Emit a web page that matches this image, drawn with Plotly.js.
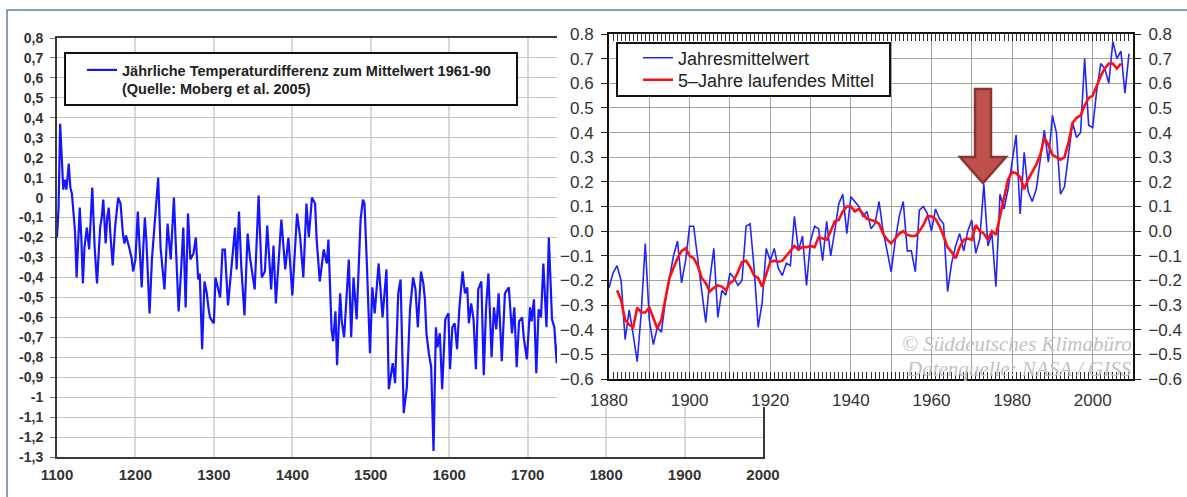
<!DOCTYPE html>
<html><head><meta charset="utf-8">
<script src="https://cdn.plot.ly/plotly-3.0.1.min.js"></script>
<style>html,body{margin:0;padding:0;background:#fff;}</style>
</head><body>
<div id="chart" style="width:1187px;height:497px;"></div>
<script>
// ---- Left chart: Moberg et al. 2005 reconstruction ----
const mobergYears = [1100,1102,1104,1106,1108,1110,1112,1115,1117,1119,
1121,1123,1125,1127,1129,1131,1133,1135,1138,1141,
1145,1148,1151,1155,1157,1159,1162,1164,1166,1168,
1171,1174,1176,1178,1181,1184,1186,1188,1192,1195,
1197,1200,1203,1205,1208,1210,1212,1214,1218,1221,
1225,1229,1232,1234,1237,1241,1245,1249,1252,1255,
1258,1261,1264,1267,1270,1274,1277,1280,1282,1285,
1288,1291,1293,1295,1298,1300,1302,1305,1308,1311,
1314,1318,1323,1327,1329,1332,1335,1339,1343,1346,
1352,1357,1361,1365,1368,1373,1376,1379,1386,1391,
1395,1400,1406,1410,1414,1418,1421,1425,1429,1431,
1435,1440,1444,1446,1450,1452,1455,1457,1461,1463,
1466,1468,1472,1475,1478,1482,1485,1487,1490,1492,
1495,1497,1499,1502,1505,1510,1515,1520,1523,1528,
1531,1535,1538,1542,1546,1550,1554,1557,1560,1564,
1567,1569,1571,1574,1577,1580,1583,1585,1588,1591,
1595,1599,1601,1604,1607,1610,1613,1617,1620,1623,
1625,1628,1631,1634,1637,1641,1644,1647,1650,1654,
1657,1660,1663,1667,1671,1676,1680,1683,1686,1689,
1693,1695,1699,1703,1705,1708,1711,1714,1717,1720,
1724,1727,1731,1734,1737,1739];
const mobergValues = [-0.20,-0.05,0.37,0.20,0.04,0.09,0.04,0.17,0.05,0.02,
-0.10,-0.17,-0.40,-0.25,-0.05,-0.20,-0.43,-0.25,-0.15,-0.26,
0.05,-0.25,-0.43,-0.15,-0.10,-0.01,-0.23,-0.10,-0.05,-0.18,
-0.34,-0.15,-0.08,0.00,-0.03,-0.18,-0.23,-0.19,-0.25,-0.30,
-0.37,-0.31,-0.07,-0.25,-0.45,-0.25,-0.10,-0.22,-0.58,-0.31,
-0.11,0.10,-0.25,-0.35,-0.46,-0.13,-0.31,0.00,-0.30,-0.57,
-0.38,-0.15,-0.55,-0.08,-0.31,-0.28,-0.20,-0.41,-0.38,-0.76,
-0.42,-0.48,-0.55,-0.60,-0.62,-0.63,-0.40,-0.45,-0.50,-0.26,
-0.26,-0.54,-0.30,-0.15,-0.36,-0.07,-0.35,-0.59,-0.18,-0.30,
-0.46,0.01,-0.40,-0.37,-0.14,-0.46,-0.24,-0.53,-0.11,-0.36,
-0.20,-0.49,-0.08,-0.20,-0.40,-0.03,-0.20,0.00,-0.03,-0.21,
-0.42,-0.26,-0.33,-0.21,-0.66,-0.72,-0.57,-0.84,-0.48,-0.62,
-0.70,-0.55,-0.31,-0.70,-0.40,-0.61,-0.25,-0.11,-0.01,-0.03,
-0.33,-0.58,-0.78,-0.45,-0.58,-0.33,-0.60,-0.36,-0.96,-0.83,
-0.93,-0.48,-0.41,-1.08,-0.95,-0.56,-0.40,-0.46,-0.65,-0.37,
-0.43,-0.51,-0.68,-0.78,-0.85,-1.27,-0.65,-0.75,-0.68,-0.96,
-0.61,-0.58,-0.86,-0.65,-0.63,-0.76,-0.55,-0.37,-0.48,-0.45,
-0.63,-0.53,-0.61,-0.86,-0.46,-0.42,-0.89,-0.55,-0.38,-0.80,
-0.55,-0.66,-0.48,-0.82,-0.48,-0.45,-0.68,-0.55,-0.85,-0.62,
-0.60,-0.70,-0.81,-0.55,-0.62,-0.51,-0.88,-0.56,-0.60,-0.33,
-0.65,-0.20,-0.61,-0.65,-0.83,-0.71];
const leftYTickVals = [0.8,0.7,0.6,0.5,0.4,0.3,0.2,0.1,0,-0.1,-0.2,-0.3,-0.4,-0.5,-0.6,-0.7,-0.8,-0.9,-1,-1.1,-1.2,-1.3];
const leftYTickText = ['0,8','0,7','0,6','0,5','0,4','0,3','0,2','0,1','0','-0,1','-0,2','-0,3','-0,4','-0,5','-0,6','-0,7','-0,8','-0,9','-1','-1,1','-1,2','-1,3'];
const leftLegendName = 'Jährliche Temperaturdifferenz zum Mittelwert 1961-90<br>(Quelle: Moberg et al. 2005)';

// ---- Inset chart: NASA/GISS annual means and 5-year running mean ----
const gissYears = [1880,1881,1882,1883,1884,1885,1886,1887,1888,1889,
1890,1891,1892,1893,1894,1895,1896,1897,1898,1899,
1900,1901,1902,1903,1904,1905,1906,1907,1908,1909,
1910,1911,1912,1913,1914,1915,1916,1917,1918,1919,
1920,1921,1922,1923,1924,1925,1926,1927,1928,1929,
1930,1931,1932,1933,1934,1935,1936,1937,1938,1939,
1940,1941,1942,1943,1944,1945,1946,1947,1948,1949,
1950,1951,1952,1953,1954,1955,1956,1957,1958,1959,
1960,1961,1962,1963,1964,1965,1966,1967,1968,1969,
1970,1971,1972,1973,1974,1975,1976,1977,1978,1979,
1980,1981,1982,1983,1984,1985,1986,1987,1988,1989,
1990,1991,1992,1993,1994,1995,1996,1997,1998,1999,
2000,2001,2002,2003,2004,2005,2006,2007,2008,2009];
const gissAnnual = [-0.23,-0.17,-0.14,-0.20,-0.44,-0.32,-0.42,-0.53,-0.33,-0.05,
-0.36,-0.46,-0.39,-0.41,-0.28,-0.19,-0.10,-0.04,-0.21,-0.12,
0.02,0.02,-0.12,-0.24,-0.37,-0.20,-0.07,-0.35,-0.24,-0.26,
-0.17,-0.19,-0.22,-0.20,0.02,0.03,-0.15,-0.39,-0.29,-0.07,
-0.12,-0.07,-0.15,-0.18,-0.13,-0.14,0.06,-0.08,-0.02,-0.22,
-0.04,0.02,0.01,-0.12,0.04,-0.10,0.00,0.11,0.15,-0.01,
0.14,0.12,0.10,0.06,0.08,0.01,0.03,0.12,0.00,-0.08,
-0.165,-0.04,0.06,0.12,-0.08,-0.08,-0.165,0.085,0.10,0.07,
0.00,0.09,0.05,0.03,-0.245,-0.13,-0.06,-0.01,-0.08,0.00,
0.045,-0.09,-0.03,0.19,-0.06,-0.01,-0.225,0.15,0.09,0.17,
0.28,0.39,0.07,0.32,0.16,0.12,0.17,0.28,0.41,0.28,
0.47,0.40,0.15,0.18,0.30,0.44,0.38,0.40,0.70,0.43,
0.42,0.57,0.68,0.66,0.60,0.77,0.70,0.73,0.56,0.72];
const meanYears = [1882,1883,1884,1885,1886,1887,1888,1889,
1890,1891,1892,1893,1894,1895,1896,1897,1898,1899,
1900,1901,1902,1903,1904,1905,1906,1907,1908,1909,
1910,1911,1912,1913,1914,1915,1916,1917,1918,1919,
1920,1921,1922,1923,1924,1925,1926,1927,1928,1929,
1930,1931,1932,1933,1934,1935,1936,1937,1938,1939,
1940,1941,1942,1943,1944,1945,1946,1947,1948,1949,
1950,1951,1952,1953,1954,1955,1956,1957,1958,1959,
1960,1961,1962,1963,1964,1965,1966,1967,1968,1969,
1970,1971,1972,1973,1974,1975,1976,1977,1978,1979,
1980,1981,1982,1983,1984,1985,1986,1987,1988,1989,
1990,1991,1992,1993,1994,1995,1996,1997,1998,1999,
2000,2001,2002,2003,2004,2005,2006,2007];
const mean5 = [-0.24,-0.28,-0.36,-0.38,-0.39,-0.31,-0.33,-0.33,
-0.31,-0.35,-0.395,-0.36,-0.27,-0.19,-0.15,-0.11,-0.08,-0.07,
-0.10,-0.11,-0.14,-0.19,-0.21,-0.245,-0.23,-0.22,-0.225,-0.24,
-0.21,-0.20,-0.165,-0.125,-0.12,-0.145,-0.18,-0.19,-0.225,-0.17,
-0.125,-0.12,-0.125,-0.12,-0.10,-0.08,-0.06,-0.075,-0.065,-0.065,
-0.06,-0.065,-0.025,-0.03,-0.035,0.0,0.04,0.045,0.08,0.10,
0.10,0.08,0.09,0.07,0.05,0.045,0.04,0.03,-0.01,-0.035,
-0.05,-0.03,-0.01,0.0,-0.015,-0.02,-0.02,0.0,0.025,0.06,
0.06,0.05,0.02,-0.02,-0.065,-0.085,-0.11,-0.065,-0.035,-0.03,
-0.035,0.025,0.0,-0.01,-0.035,0.0,-0.015,0.06,0.13,0.21,
0.24,0.235,0.22,0.17,0.21,0.24,0.27,0.31,0.38,0.35,
0.31,0.30,0.29,0.30,0.36,0.44,0.46,0.47,0.51,0.54,
0.55,0.59,0.63,0.66,0.68,0.68,0.66,0.68];
const insetXTickVals = [1880,1890,1900,1910,1920,1930,1940,1950,1960,1970,1980,1990,2000,2010];
const insetXTickText = ['1880','','1900','','1920','','1940','','1960','','1980','','2000',''];
const insetNames = ['Jahresmittelwert','5\u2013Jahre laufendes Mittel'];
const watermark = ['\u00a9 S\u00fcddeutsches Klimab\u00fcro','Datenquelle: NASA / GISS'];

// ---- pixel -> paper helpers (layout only) ----
const W = 1187, H = 497;
const fx = p => p / W;
const fy = p => 1 - p / H;
const pth = pts => 'M' + pts.map(p => fx(p[0]).toFixed(5) + ',' + fy(p[1]).toFixed(5)).join(' L') + ' Z';

const traces = [
  {x: mobergYears, y: mobergValues, xaxis:'x', yaxis:'y', mode:'lines', name: leftLegendName,
   line:{color:'#1515ff', width:2.2}, legend:'legend', hoverinfo:'x+y'},
  {x:[0,1,1,0,0], y:[0,0,1,1,0], xaxis:'x2', yaxis:'y2', mode:'lines', fill:'toself',
   fillcolor:'#ffffff', line:{width:0, color:'#ffffff'}, showlegend:false, hoverinfo:'skip'},
  {x: gissYears, y: gissAnnual, xaxis:'x3', yaxis:'y3', mode:'lines', name: insetNames[0],
   line:{color:'#2424ff', width:1.6}, legend:'legend2'},
  {x: meanYears, y: mean5, xaxis:'x3', yaxis:'y4', mode:'lines', name: insetNames[1],
   line:{color:'#ff1010', width:2.6}, legend:'legend3'}
];

const insetFont = {family:'Liberation Sans, Arial, sans-serif', size:17, color:'#333'};
const insetLegendFont = {family:'Liberation Sans, Arial, sans-serif', size:18, color:'#222'};
const wmFont = {family:'Liberation Serif, DejaVu Serif, serif', size:21, style:'italic', color:'#c2c2c2'};
const layout = {
  width: W, height: H,
  margin:{l:0, r:0, t:0, b:0, pad:0},
  paper_bgcolor:'#ffffff', plot_bgcolor:'rgba(0,0,0,0)',
  font:{family:'Liberation Sans, Arial, sans-serif', color:'#333'},
  showlegend:true,
  xaxis:{domain:[fx(57), fx(763)], range:[1100,2000], tick0:1100, dtick:100, anchor:'y',
    showgrid:true, gridcolor:'#d9d9d9', gridwidth:2, zeroline:false,
    showline:true, linecolor:'#3a3a3a', linewidth:2, mirror:true, ticks:'',
    tickfont:{size:15, weight:'bold', color:'#333'}, ticklabelstandoff:3},
  yaxis:{domain:[fy(457), fy(38)], range:[-1.3,0.8], anchor:'x',
    tickvals:leftYTickVals, ticktext:leftYTickText,
    showgrid:true, gridcolor:'#c4c4c4', gridwidth:1, zeroline:false,
    showline:true, linecolor:'#3a3a3a', linewidth:2, mirror:true,
    ticks:'outside', ticklen:5, tickcolor:'#777',
    tickfont:{size:14, weight:'bold', color:'#333'}, ticklabelstandoff:4},
  xaxis2:{domain:[fx(557), 1], range:[0,1], visible:false, anchor:'y2'},
  yaxis2:{domain:[fy(407), fy(14)], range:[0,1], visible:false, anchor:'x2'},
  xaxis3:{domain:[fx(609), fx(1133)], range:[1880,2010], anchor:'y3',
    tickvals:insetXTickVals, ticktext:insetXTickText,
    ticks:'inside', ticklen:7, tickcolor:'#222', tickwidth:1,
    showline:true, linecolor:'#111', linewidth:2, mirror:'allticks',
    showgrid:true, gridcolor:'#a3a3a3', gridwidth:1, zeroline:false,
    minor:{dtick:1, ticks:'inside', ticklen:3, tickcolor:'#333', showgrid:false},
    tickfont:insetFont, ticklabelstandoff:5},
  yaxis3:{domain:[fy(379), fy(34)], range:[-0.6,0.8], tick0:0, dtick:0.1, tickformat:'.1f', anchor:'x3',
    ticks:'outside', ticklen:6, tickcolor:'#222',
    showline:true, linecolor:'#111', linewidth:2,
    showgrid:true, gridcolor:'#a3a3a3', gridwidth:1, zeroline:false,
    tickfont:insetFont, ticklabelstandoff:4},
  yaxis4:{overlaying:'y3', side:'right', anchor:'x3', range:[-0.6,0.8], tick0:0, dtick:0.1, tickformat:'.1f',
    ticks:'outside', ticklen:6, tickcolor:'#222',
    showline:true, linecolor:'#111', linewidth:2, showgrid:false, zeroline:false,
    tickfont:insetFont, ticklabelstandoff:4},
  legend:{x:fx(82), y:fy(54), xanchor:'left', yanchor:'top', valign:'top',
    bgcolor:'rgba(0,0,0,0)', borderwidth:0, itemwidth:30,
    font:{size:14.5, weight:'bold', color:'#222'}},
  legend2:{x:fx(638), y:fy(39.5), xanchor:'left', yanchor:'top',
    bgcolor:'rgba(0,0,0,0)', borderwidth:0, itemwidth:30, font:insetLegendFont},
  legend3:{x:fx(638), y:fy(61.5), xanchor:'left', yanchor:'top',
    bgcolor:'rgba(0,0,0,0)', borderwidth:0, itemwidth:30, font:insetLegendFont},
  shapes:[
    {type:'rect', xref:'paper', yref:'paper', x0:fx(7), x1:fx(1200), y0:fy(10), y1:fy(510),
     line:{color:'#5a82ad', width:1.5}, fillcolor:'rgba(0,0,0,0)', layer:'below'},
    {type:'rect', xref:'paper', yref:'paper', x0:fx(65), x1:fx(517), y0:fy(53), y1:fy(105),
     line:{color:'#111', width:2}, fillcolor:'#ffffff', layer:'above'},
    {type:'rect', xref:'paper', yref:'paper', x0:fx(617), x1:fx(890), y0:fy(43), y1:fy(96),
     line:{color:'#111', width:2}, fillcolor:'#ffffff', layer:'above'},
    {type:'path', xref:'paper', yref:'paper', layer:'above',
     path: pth([[975,89],[991,89],[991,157],[1006,157],[983,183],[960,157],[975,157]]),
     fillcolor:'#bf504c', line:{color:'#8a3532', width:2.5}}
  ],
  annotations:[
    {xref:'paper', yref:'paper', x:fx(1132), y:fy(344), xanchor:'right', yanchor:'middle', showarrow:false,
     borderpad:0, borderwidth:0, text:watermark[0], font:wmFont},
    {xref:'paper', yref:'paper', x:fx(1132), y:fy(368.5), xanchor:'right', yanchor:'middle', showarrow:false,
     borderpad:0, borderwidth:0, text:watermark[1], font:wmFont}
  ]
};

Plotly.newPlot('chart', traces, layout, {displayModeBar:false, staticPlot:true});
</script>
</body></html>
